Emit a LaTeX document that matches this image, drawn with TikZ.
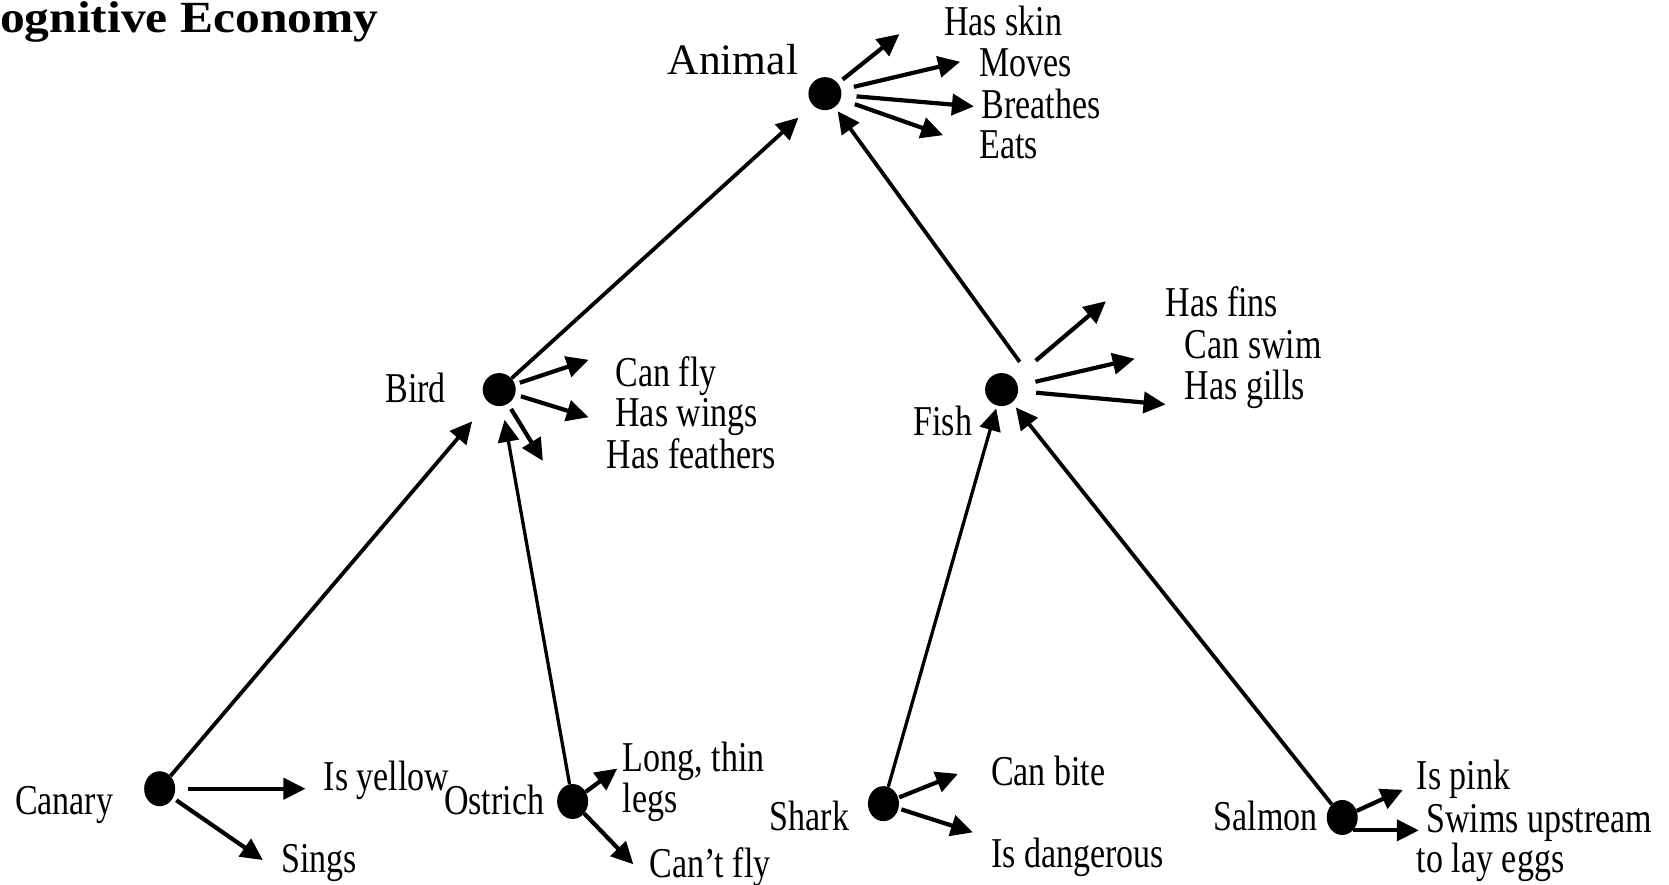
\documentclass[tikz,border=0pt]{standalone}
\usepackage{fontspec}
\setmainfont{Liberation Serif}
\usetikzlibrary{arrows.meta,shapes.geometric,calc}
\newcommand{\vtxt}[1]{\scalebox{1}[1.25]{#1}}
\begin{document}
\begin{tikzpicture}[x=1.0644pt,y=-1.0644pt,
  dot/.style={circle,fill=black,inner sep=0pt,minimum size=33pt},
  edot/.style={ellipse,fill=black,inner sep=0pt,minimum width=31pt,minimum height=35pt},
  lbl/.style={anchor=base west,inner sep=0pt,font=\fontsize{34}{40}\selectfont},
  arr/.style={line width=4.2pt,-{Triangle[length=22pt,width=21pt]}},
  hier/.style={arr,line width=3.8pt},
]
\useasboundingbox (0,0) rectangle (1568,831);

% title
\node[anchor=base west,inner sep=0pt,font=\fontsize{49.5}{52}\bfseries] (title) at (0,31) {\scalebox{1}[0.9]{ognitive Economy}};

% concept dots
\node[dot] (animal) at (775,88) {};
\node[dot] (bird) at (469,366) {};
\node[dot] (fish) at (941,366) {};
\node[edot] (canary) at (150,741) {};
\node[edot] (ostrich) at (538,753) {};
\node[edot] (shark) at (830,755) {};
\node[edot] (salmon) at (1261,768) {};

% concept labels
\node[anchor=base west,inner sep=0pt,font=\fontsize{43.5}{48}\selectfont] (lanimal) at (627,70) {Animal};
\node[lbl] (lbird) at (362,378) {\vtxt{Bird}};
\node[lbl] (lfish) at (858,409) {\vtxt{Fish}};
\node[lbl] (lcanary) at (14,765) {\vtxt{Canary}};
\node[lbl] (lostrich) at (417,765) {\vtxt{Ostrich}};
\node[lbl] (lshark) at (723,780) {\vtxt{Shark}};
\node[lbl] (lsalmon) at (1140,780) {\vtxt{Salmon}};

% property labels
\node[lbl] (pa1) at (887,33) {\vtxt{Has skin}};
\node[lbl] (pa2) at (920,72) {\vtxt{Moves}};
\node[lbl] (pa3) at (922,111) {\vtxt{Breathes}};
\node[lbl] (pa4) at (920,149) {\vtxt{Eats}};
\node[lbl] (pb1) at (578,363) {\vtxt{Can fly}};
\node[lbl] (pb2) at (578,401) {\vtxt{Has wings}};
\node[lbl] (pb3) at (570,440) {\vtxt{Has feathers}};
\node[lbl] (pf1) at (1095,297) {\vtxt{Has fins}};
\node[lbl] (pf2) at (1113,337) {\vtxt{Can swim}};
\node[lbl] (pf3) at (1113,375) {\vtxt{Has gills}};
\node[lbl] (pc1) at (304,743) {\vtxt{Is yellow}};
\node[lbl] (pc2) at (264,820) {\vtxt{Sings}};
\node[lbl] (po1) at (585,725) {\vtxt{Long, thin}};
\node[lbl] (po1b) at (585,763) {\vtxt{legs}};
\node[lbl] (po2) at (610,824) {\vtxt{Can’t fly}};
\node[lbl] (ps1) at (931,738) {\vtxt{Can bite}};
\node[lbl] (ps2) at (931,815) {\vtxt{Is dangerous}};
\node[lbl] (pm1) at (1331,742) {\vtxt{Is pink}};
\node[lbl] (pm2) at (1340,782) {\vtxt{Swims upstream}};
\node[lbl] (pm2b) at (1331,820) {\vtxt{to lay eggs}};

% property arrow tips
\coordinate (a1) at (845,32);
\coordinate (a2) at (902,58);
\coordinate (a3) at (915,100);
\coordinate (a4) at (886,127);
\coordinate (b1) at (553,338);
\coordinate (b2) at (553,392);
\coordinate (b3) at (510,433);
\coordinate (f1) at (1039,283);
\coordinate (f2) at (1066,337);
\coordinate (f3) at (1095,380);
\coordinate (c1) at (287,741);
\coordinate (c2) at (247,808);
\coordinate (o1) at (580,722);
\coordinate (o2) at (595,812);
\coordinate (s1) at (900,727);
\coordinate (s2) at (914,782);
\coordinate (m1) at (1318,742);
\coordinate (m2) at (1333,782);

% hierarchy
\draw[hier,shorten >=19pt] (bird) -- (animal);
\draw[hier,shorten >=5pt] ($(fish)+(17,-26)$) -- (animal);
\draw[hier,shorten >=25pt] (canary) -- (bird);
\draw[hier,line width=3.3pt,shorten >=14pt] (ostrich) -- (bird);
\draw[hier,line width=3.3pt,shorten >=3pt] (shark) -- (fish);
\draw[hier,shorten >=6pt] (salmon) -- (fish);

% properties
\draw[arr,shorten <=6pt] (animal) -- (a1);
\draw[arr,shorten <=13pt] (animal) -- (a2);
\draw[arr,shorten <=15pt] (animal) -- (a3);
\draw[arr,shorten <=15pt] (animal) -- (a4);
\draw[arr,shorten <=5pt] (bird) -- (b1);
\draw[arr,shorten <=6pt] (bird) -- (b2);
\draw[arr,shorten <=6pt] (bird) -- (b3);
\draw[arr,shorten <=28pt] (fish) -- (f1);
\draw[arr,shorten <=18pt] (fish) -- (f2);
\draw[arr,shorten <=18pt] (fish) -- (f3);
\draw[arr,shorten <=13pt] (canary) -- (c1);
\draw[arr,shorten <=4pt] (canary) -- (c2);
\draw[arr] (ostrich) -- (o1);
\draw[arr] (ostrich) -- (o2);
\draw[arr,shorten <=1pt] (shark) -- (s1);
\draw[arr,shorten <=3pt] (shark) -- (s2);
\draw[arr] (salmon) -- (m1);
\draw[arr] (salmon.-50) -- (salmon.-50 -| m2);
\end{tikzpicture}
\end{document}
